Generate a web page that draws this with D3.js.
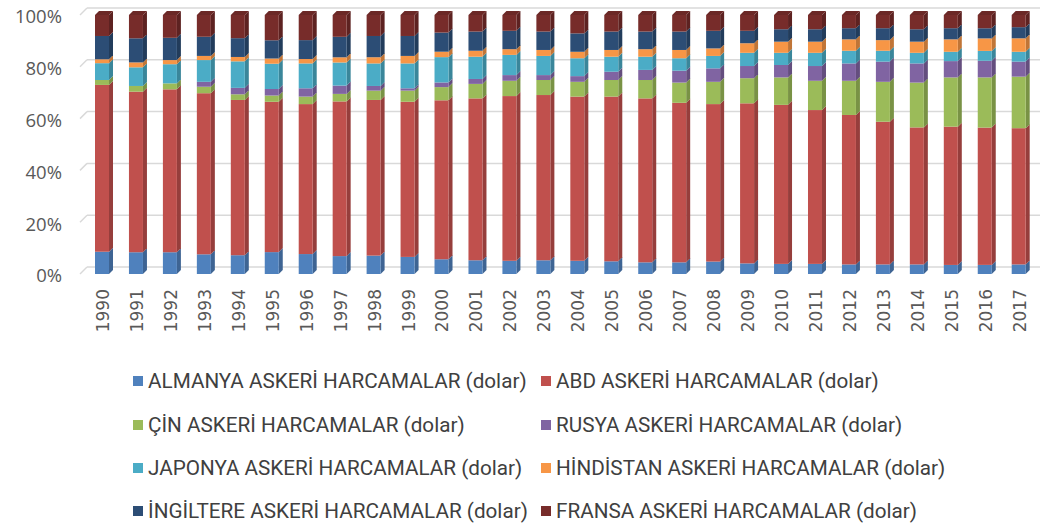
<!DOCTYPE html>
<html>
<head>
<meta charset="utf-8">
<script src="https://cdn.jsdelivr.net/npm/d3@7"></script>
<style>
  body { margin: 0; background: #fff; }
  svg { display: block; }
</style>
</head>
<body>
<svg id="chart"></svg>
<script>
// Yıllar
const years = ["1990", "1991", "1992", "1993", "1994", "1995", "1996", "1997", "1998", "1999",
  "2000", "2001", "2002", "2003", "2004", "2005", "2006", "2007", "2008", "2009",
  "2010", "2011", "2012", "2013", "2014", "2015", "2016", "2017"];

// Shares (%), bottom to top of each bar
const almanya = [8.6, 8.4, 8.4, 7.6, 7.3, 8.4, 7.7, 6.9, 7.1, 6.6, 5.7, 5.3, 5.1, 5.3, 5.1, 4.9, 4.5, 4.5, 4.8, 4.1, 3.9, 3.9, 3.7, 3.7, 3.7, 3.5, 3.5, 3.7];
const abd = [64.4, 62.0, 62.9, 62.2, 60.3, 57.7, 57.9, 59.6, 60.1, 59.9, 61.5, 62.5, 63.6, 63.8, 63.4, 63.6, 63.3, 61.6, 60.8, 61.8, 61.4, 59.4, 57.7, 55.1, 52.9, 53.4, 52.8, 52.6];
const cin = [1.9, 2.2, 2.3, 2.5, 2.2, 2.4, 2.9, 2.9, 3.6, 4.3, 5.1, 5.6, 5.9, 5.8, 5.7, 6.4, 7.1, 7.8, 8.6, 9.7, 10.6, 11.3, 13.2, 15.4, 17.3, 19.0, 19.3, 19.9];
const rusya = [0, 0, 0, 1.9, 2.5, 2.5, 3.2, 3.2, 1.8, 0.9, 1.8, 1.9, 2.2, 1.9, 2.2, 3.2, 3.9, 4.6, 5.2, 4.7, 4.8, 5.7, 6.7, 7.8, 7.4, 6.3, 6.4, 5.8];
const japonya = [6.5, 7.2, 7.4, 8.4, 10.3, 9.7, 9.6, 8.9, 8.7, 9.6, 9.8, 8.6, 7.8, 7.4, 6.9, 5.8, 5.1, 4.8, 4.8, 5.1, 4.7, 5.1, 4.9, 4.2, 4.1, 3.6, 3.8, 3.8];
const hindistan = [1.5, 1.9, 1.6, 1.6, 1.7, 2.0, 1.7, 2.0, 2.4, 2.9, 2.1, 2.3, 2.2, 2.3, 2.5, 2.6, 2.9, 3.2, 2.9, 3.7, 4.3, 4.3, 4.4, 4.1, 4.3, 4.8, 4.8, 5.2];
const ingiltere = [9.0, 9.3, 8.6, 7.4, 7.3, 7.0, 7.3, 7.9, 8.2, 7.7, 7.4, 7.4, 7.1, 7.1, 7.1, 7.1, 6.8, 7.1, 6.8, 4.8, 4.8, 4.8, 4.3, 4.6, 4.8, 4.3, 3.9, 4.3];
const fransa = [8.1, 9.0, 8.8, 8.4, 9.0, 9.7, 9.7, 8.4, 8.1, 8.1, 6.8, 6.4, 6.1, 6.4, 7.1, 6.4, 6.4, 6.4, 6.1, 6.1, 5.5, 5.5, 5.1, 5.1, 5.5, 5.1, 5.1, 4.7];

const seriesNames = [
  "ALMANYA ASKERİ HARCAMALAR (dolar)",
  "ABD ASKERİ HARCAMALAR (dolar)",
  "ÇİN ASKERİ HARCAMALAR (dolar)",
  "RUSYA ASKERİ HARCAMALAR (dolar)",
  "JAPONYA ASKERİ HARCAMALAR (dolar)",
  "HİNDİSTAN ASKERİ HARCAMALAR (dolar)",
  "İNGİLTERE ASKERİ HARCAMALAR (dolar)",
  "FRANSA ASKERİ HARCAMALAR (dolar)"
];
const seriesValues = [almanya, abd, cin, rusya, japonya, hindistan, ingiltere, fransa];
const colors = ["#4f81bd", "#c0504d", "#9bbb59", "#8064a2", "#4bacc6", "#f79646", "#2c4d75", "#772c2a"];
const yTicks = [0, 0.2, 0.4, 0.6, 0.8, 1];

const width = 1044, height = 526;
const svg = d3.select("#chart").attr("width", width).attr("height", height);

// table for d3.stack
const rows = years.map((yr, i) => {
  const r = { year: yr };
  seriesNames.forEach((k, j) => { r[k] = seriesValues[j][i]; });
  return r;
});
const stacked = d3.stack().keys(seriesNames).offset(d3.stackOffsetExpand)(rows);

const x = d3.scalePoint().domain(years).range([102, 1018.7]);
const y = d3.scaleLinear().domain([0, 1]).range([274, 15]);
const color = d3.scaleOrdinal().domain(seriesNames).range(colors);

const barW = 14;
const depth = { dx: 4, dy: -4 };   // bar side / top
const wall = { dx: 7, dy: -7 };    // back wall offset

// gridlines on the back wall
const grid = svg.append("g");
grid.selectAll("line.grid")
  .data(yTicks)
  .join("line")
  .attr("x1", 80 + wall.dx)
  .attr("x2", 1040)
  .attr("y1", d => y(d) + wall.dy)
  .attr("y2", d => y(d) + wall.dy)
  .attr("stroke", "#d9d9d9")
  .attr("stroke-width", 1.5);
grid.selectAll("line.slant")
  .data(yTicks)
  .join("line")
  .attr("x1", 80)
  .attr("x2", 80 + wall.dx)
  .attr("y1", d => y(d))
  .attr("y2", d => y(d) + wall.dy)
  .attr("stroke", "#d9d9d9")
  .attr("stroke-width", 1.5);

// y labels
svg.append("g").selectAll("text")
  .data(yTicks)
  .join("text")
  .attr("x", 62)
  .attr("y", d => y(d) + 2)
  .attr("dy", "0.35em")
  .attr("text-anchor", "end")
  .attr("font-family", "'Open Sans', sans-serif")
  .attr("font-size", 18.5)
  .attr("fill", "#595959")
  .text(d3.format(".0%"));

// bars
const layers = svg.append("g").selectAll("g")
  .data(stacked)
  .join("g");

layers.each(function(layer, li) {
  const g = d3.select(this);
  const c = d3.color(color(layer.key));
  const pts = layer.map((d, i) => ({ year: years[i], y0: d[0], y1: d[1] }))
    .filter(d => d.y1 - d.y0 > 0);

  // side face
  g.selectAll("path.side")
    .data(pts)
    .join("path")
    .attr("fill", c.darker(0.7))
    .attr("d", d => {
      const xr = x(d.year) + barW / 2;
      const yt = y(d.y1), yb = y(d.y0);
      return `M${xr},${yt}L${xr + depth.dx},${yt + depth.dy}L${xr + depth.dx},${yb + depth.dy}L${xr},${yb}Z`;
    });

  // front face
  g.selectAll("rect")
    .data(pts)
    .join("rect")
    .attr("x", d => x(d.year) - barW / 2)
    .attr("y", d => y(d.y1))
    .attr("width", barW)
    .attr("height", d => y(d.y0) - y(d.y1))
    .attr("fill", c);

  // top face on the last series
  if (li === stacked.length - 1) {
    g.selectAll("path.top")
      .data(pts)
      .join("path")
      .attr("fill", c.darker(0.3))
      .attr("d", d => {
        const xl = x(d.year) - barW / 2;
        const yt = y(d.y1);
        return `M${xl},${yt}L${xl + depth.dx},${yt + depth.dy}L${xl + barW + depth.dx},${yt + depth.dy}L${xl + barW},${yt}Z`;
      });
  }
});

// year labels
svg.append("g").selectAll("text")
  .data(years)
  .join("text")
  .attr("transform", d => `translate(${x(d) + 1},289) rotate(-90)`)
  .attr("text-anchor", "end")
  .attr("dy", "0.35em")
  .attr("font-family", "'DejaVu Sans', sans-serif")
  .attr("font-size", 17)
  .attr("fill", "#595959")
  .text(d => d);

// legend, 2 columns
const legendCols = [133, 541];
const legendRows = [381, 425, 468, 511];
const legend = svg.append("g").selectAll("g")
  .data(seriesNames)
  .join("g")
  .attr("transform", (d, i) => `translate(${legendCols[i % 2]},${legendRows[Math.floor(i / 2)]})`);

legend.append("rect")
  .attr("x", 0)
  .attr("y", -5)
  .attr("width", 10)
  .attr("height", 10)
  .attr("fill", d => color(d));

legend.append("text")
  .attr("x", 15)
  .attr("dy", "0.35em")
  .attr("font-family", "Roboto, sans-serif")
  .attr("font-size", 20.7)
  .attr("fill", "#404040")
  .text(d => d);
</script>
</body>
</html>
